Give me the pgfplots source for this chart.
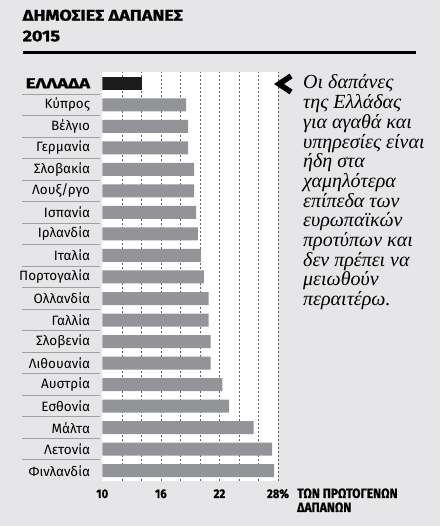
\documentclass[border=0pt]{standalone}
\usepackage{fontspec}
\setmainfont{Fira Sans}
\newfontfamily\condfont{Fira Sans}[FakeStretch=0.9, FakeBold=0.8]
\newfontfamily\titlefont{Fira Sans}[FakeStretch=1.16, FakeBold=1.2]
\newfontfamily\widefont{Fira Sans}[FakeStretch=1.3, FakeBold=1.2]
\newfontfamily\annfont{Liberation Serif}
\usepackage{pgfplots}
\pgfplotsset{compat=1.18}
\definecolor{bg}{RGB}{230,230,232}
\definecolor{barg}{RGB}{147,148,151}
\definecolor{grk}{RGB}{28,28,28}
\definecolor{sepc}{RGB}{160,160,162}
\begin{document}
\begin{tikzpicture}[x=1pt,y=1pt]
\fill[bg] (0,0) rectangle (440,526);
% title
\node[anchor=base west, inner sep=0pt, font=\titlefont\bfseries\fontsize{15.5}{18}\selectfont] at (22.5,505.3) {ΔΗΜΟΣΙΕΣ ΔΑΠΑΝΕΣ};
\node[anchor=base west, inner sep=0pt, font=\titlefont\bfseries\fontsize{15.5}{18}\selectfont] at (22.5,484.7) {2015};
\draw[line width=2.8pt] (22.5,473.3) -- (416,473.3);
\begin{axis}[
  name=ax,
  at={(102.3pt,44.5pt)}, anchor=south west,
  scale only axis, width=175.7pt, height=409pt,
  xmin=10, xmax=28, ymin=-0.5, ymax=18.5,
  xbar, bar width=13pt, bar shift=0pt,
  axis background/.style={fill=white},
  axis line style={draw=none},
  major tick length=0pt, minor tick length=0pt,
  xtick={10,16,22,28}, xticklabels={10,16,22,28\%},
  minor xtick={12,14,16,18,20,22,24,26,28},
  xminorgrids=true,
  minor grid style={gray!75!black, line width=0.5pt, dash pattern=on 2pt off 2pt},
  ytick={0,...,18},
  yticklabels={Φινλανδία,Λετονία,Μάλτα,Εσθονία,Αυστρία,Λιθουανία,Σλοβενία,Γαλλία,Ολλανδία,Πορτογαλία,Ιταλία,Ιρλανδία,Ισπανία,Λουξ/ργο,Σλοβακία,Γερμανία,Βέλγιο,Κύπρος,{\widefont\bfseries\fontsize{14.2}{15}\selectfont ΕΛΛΑΔΑ}},
  yticklabel style={font=\fontsize{13.5}{14}\selectfont, anchor=east, inner sep=0pt, xshift=-12pt},
  xticklabel style={font=\condfont\bfseries\fontsize{12.5}{13}\selectfont, anchor=base, inner sep=0pt, yshift=-16.5pt},
  /pgf/number format/assume math mode=true,
]
\addplot[fill=grk, draw=none] coordinates {(14.1,18)};
\addplot[fill=barg, draw=none] coordinates {
(27.6,0) (27.4,1) (25.5,2) (23.0,3) (22.3,4) (21.1,5) (21.1,6) (20.9,7) (20.9,8)
(20.4,9) (20.1,10) (19.8,11) (19.6,12) (19.4,13) (19.4,14) (18.8,15) (18.8,16) (18.6,17)};
\end{axis}
% separators between category labels
\foreach \k in {1,...,18} {
  \draw[sepc, line width=0.8pt] (22,{453.5-21.5*\k}) -- (100,{453.5-21.5*\k});
}
% chevron
\draw[line width=5.5pt, miter limit=10] (291,450) -- (279,442) -- (291,434);
% annotation
\foreach \t [count=\i from 0] in {Οι δαπάνες, της Ελλάδας, για αγαθά και, υπηρεσίες είναι, ήδη στα, χαμηλότερα, επίπεδα των, ευρωπαϊκών, προτύπων και, δεν πρέπει να, μειωθούν, περαιτέρω.} {
  \node[anchor=base west, inner sep=0pt, font=\annfont\itshape\fontsize{20}{20}\selectfont] at (303,{437-19.7*\i}) {\t};
}
% unit label
\node[anchor=base west, inner sep=0pt, font=\condfont\bfseries\fontsize{13.5}{14}\selectfont] at (297,28) {ΤΩΝ ΠΡΩΤΟΓΕΝΩΝ};
\node[anchor=base west, inner sep=0pt, font=\condfont\bfseries\fontsize{13.5}{14}\selectfont] at (297,14) {ΔΑΠΑΝΩΝ};
\end{tikzpicture}
\end{document}
